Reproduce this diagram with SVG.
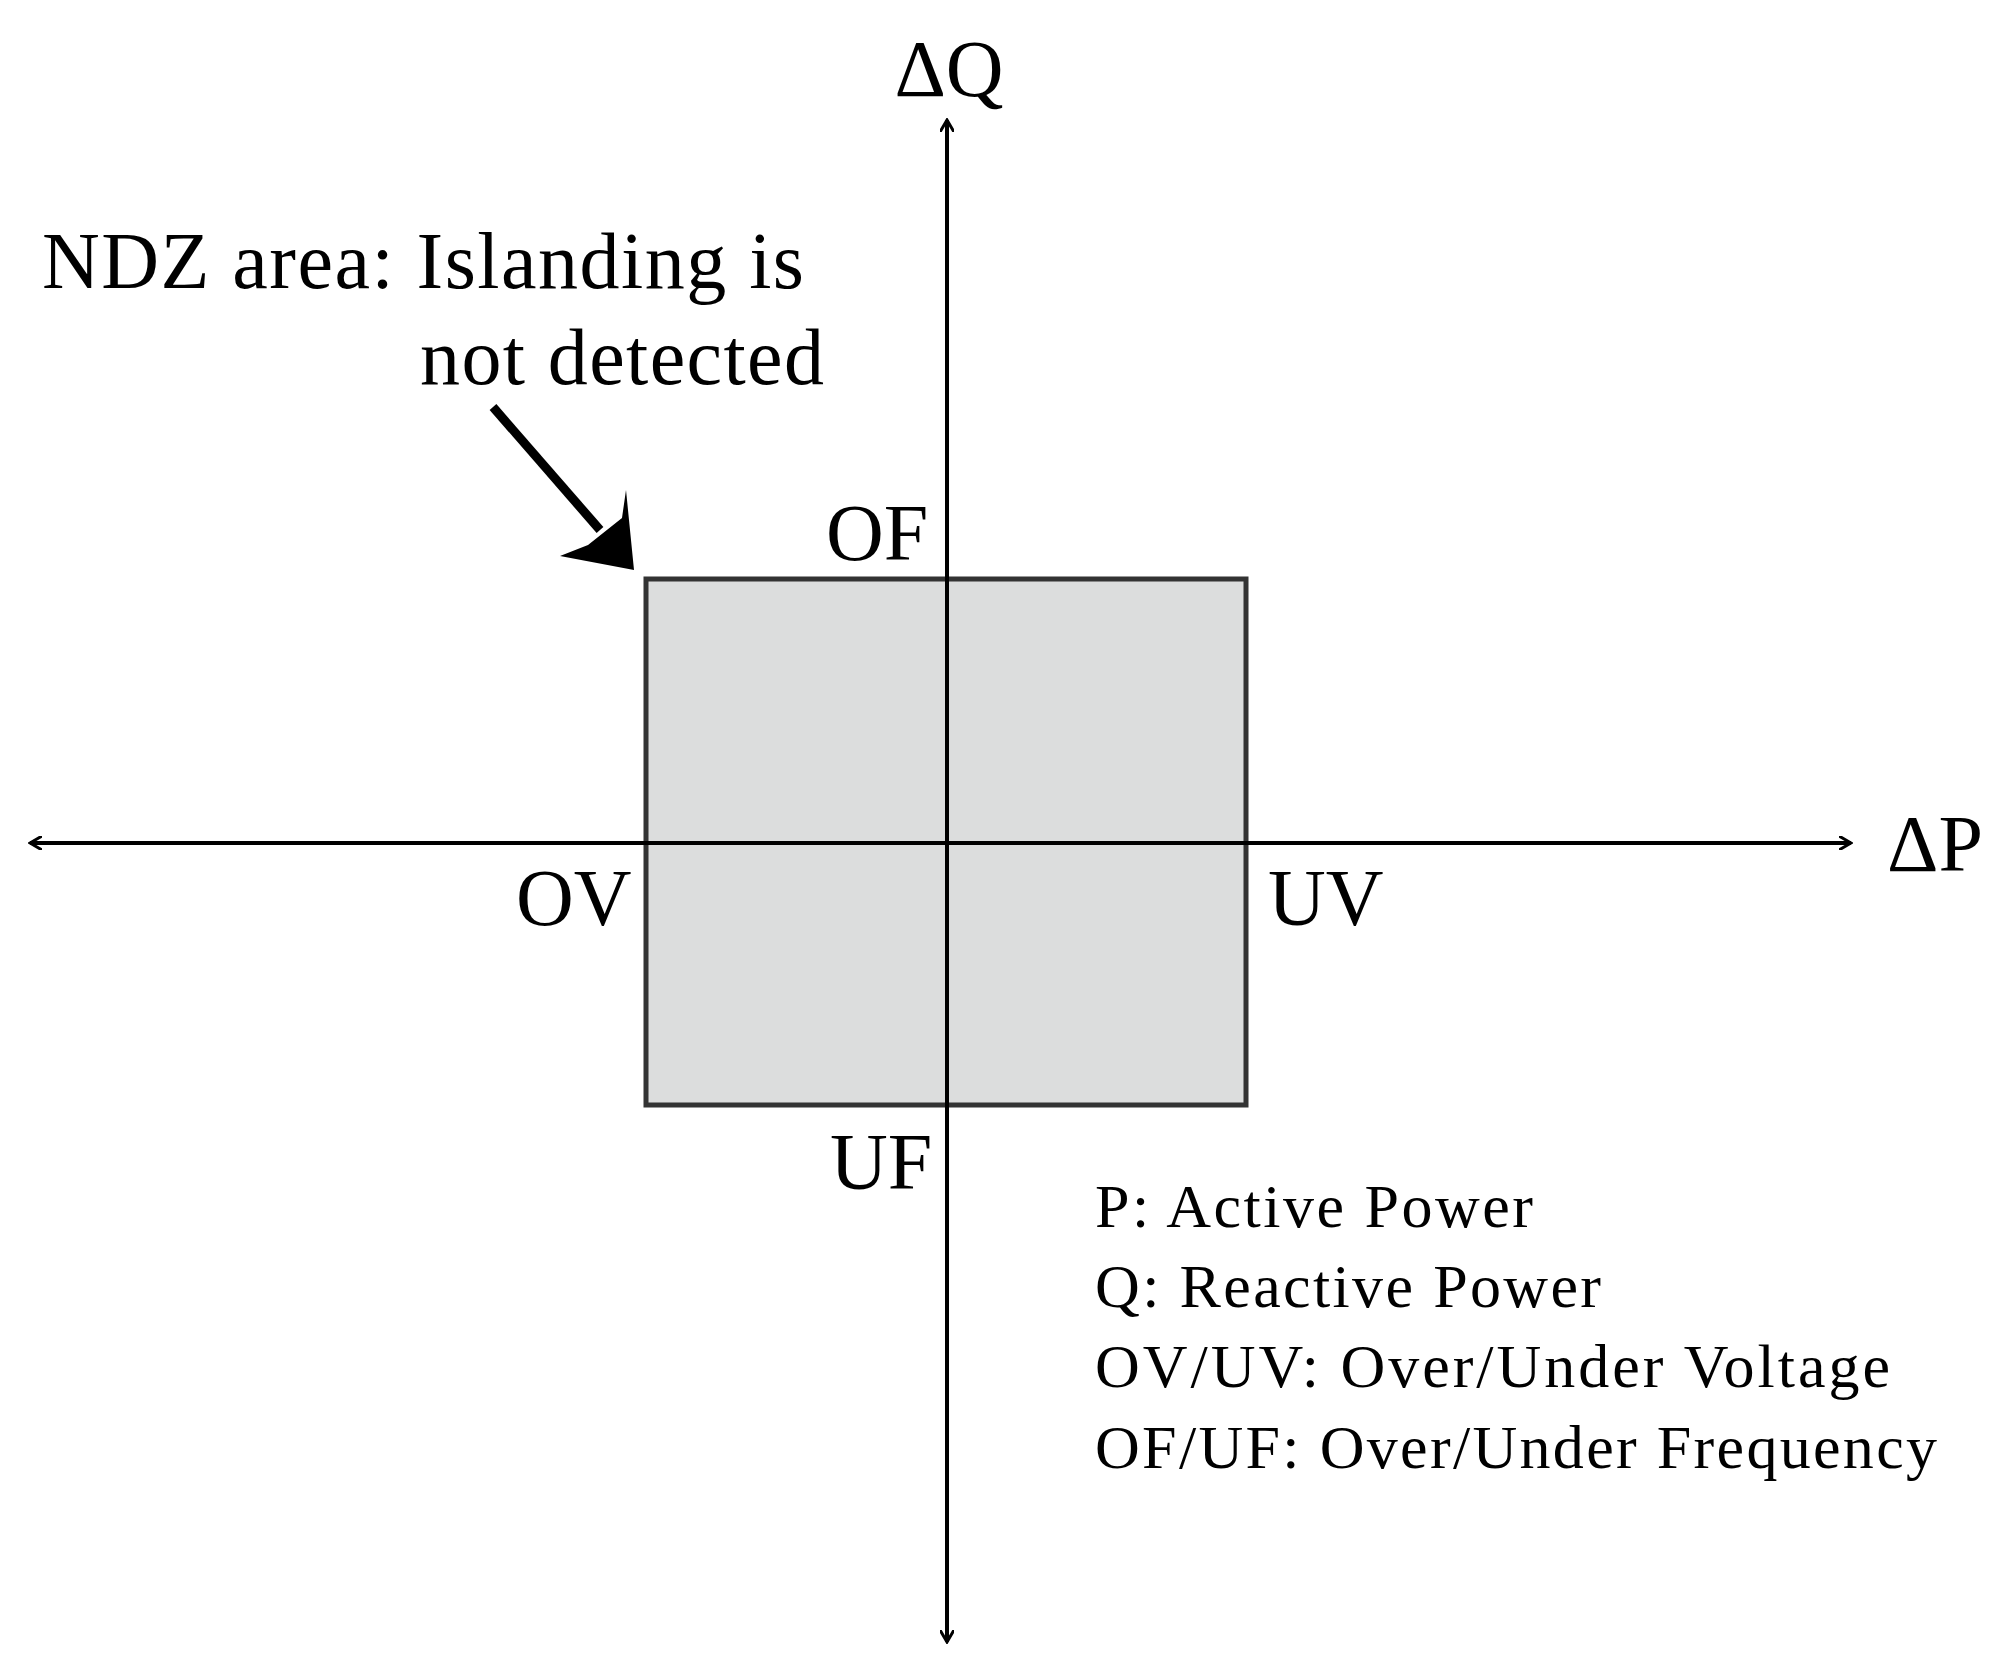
<svg xmlns="http://www.w3.org/2000/svg" width="1998" height="1665" viewBox="0 0 1998 1665">
<style>
text{font-family:"Liberation Serif","Times New Roman",serif;fill:#000}
.b{font-size:80px}
.s{font-size:62px}
.ax{stroke:#000;stroke-width:4;fill:none}
</style>
<defs>
<marker id="oa" markerWidth="14" markerHeight="14" refX="12" refY="7" orient="auto" markerUnits="userSpaceOnUse"><path d="M0,0 L12,7 L0,14" fill="none" stroke="#000" stroke-width="3"/></marker>
<marker id="fa" markerWidth="80" markerHeight="80" refX="60" refY="30" orient="auto" markerUnits="userSpaceOnUse"><path d="M0,30 L0,0 L60,30 L0,60 Z" fill="#000"/></marker>
</defs>
<rect width="1998" height="1665" fill="#fff"/>
<g id="ndz"><rect x="646" y="579" width="600" height="526" fill="#dcdddd" stroke="#333" stroke-width="5"/></g>
<g id="connectors">
<line class="ax" x1="947" y1="1640" x2="947" y2="120" marker-end="url(#oa)"/>
<line class="ax" x1="947" y1="1640" x2="947" y2="1642" marker-end="url(#oa)"/>
<line class="ax" x1="947" y1="843" x2="1851" y2="843" marker-end="url(#oa)"/>
<line class="ax" x1="947" y1="843" x2="30" y2="843" marker-end="url(#oa)"/>
<line x1="493" y1="407" x2="600" y2="530" stroke="#000" stroke-width="9"/>
<path d="M634,570 L560,556 L588,545 L622,518 L626,490 Z" fill="#000"/>
</g>
<g id="labels">
<text class="b" x="949" y="96" text-anchor="middle">ΔQ</text>
<text class="b" x="1887" y="871">ΔP</text>
<text class="b" x="42" y="288" textLength="762">NDZ area: Islanding is</text>
<text class="b" x="420" y="384" textLength="404">not detected</text>
<text class="b" x="826" y="560">OF</text>
<text class="b" x="516" y="925">OV</text>
<text class="b" x="1268" y="925">UV</text>
<text class="b" x="830" y="1189">UF</text>
<text class="s" x="1095" y="1227" textLength="438">P: Active Power</text>
<text class="s" x="1095" y="1307" textLength="506">Q: Reactive Power</text>
<text class="s" x="1095" y="1387" textLength="795">OV/UV: Over/Under Voltage</text>
<text class="s" x="1095" y="1468" textLength="842">OF/UF: Over/Under Frequency</text>
</g>
</svg>
